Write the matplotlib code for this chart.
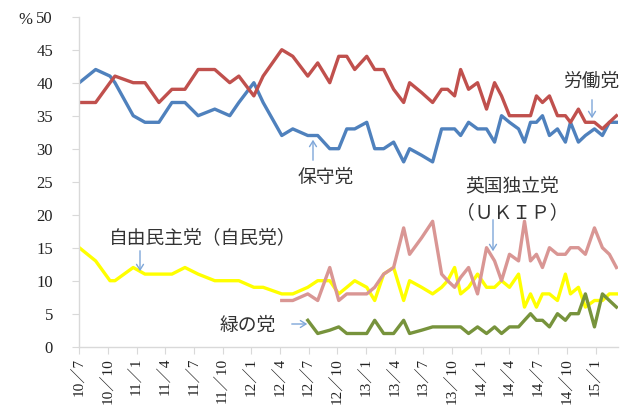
import numpy as np
import matplotlib
matplotlib.use("Agg")
import matplotlib.pyplot as plt

# months since 2010-07 (poll dates)
months = [0.0, 1.71, 3.21, 3.73, 5.64, 6.87, 8.33, 9.69, 11.05, 12.43, 14.17, 15.74,
          16.69, 18.26, 19.23, 21.18, 22.33, 23.90, 24.94, 26.2, 27.14, 27.98, 28.81,
          30.07, 30.9, 31.84, 32.88, 33.93, 34.55, 35.81, 36.96, 37.9, 38.53, 39.26,
          39.89, 40.72, 41.66, 42.6, 43.44, 44.17, 45.0, 45.95, 46.57, 47.2, 47.82,
          48.45, 49.18, 50.02, 50.85, 51.38, 52.21, 52.94, 53.89, 54.72, 55.45, 56.19]

nan = np.nan
conservative = [40, 42, 41, 40, 35, 34, 34, 37, 37, 35, 36, 35,
                37, 40, 37, 32, 33, 32, 32, 30, 30, 33, 33,
                34, 30, 30, 31, 28, 30, 29, 28, 33, 33, 33,
                32, 34, 33, 33, 31, 35, 34, 33, 31, 34, 34,
                35, 32, 33, 31, 34, 31, 32, 33, 32, 34, 34]
labour = [37, 37, 40, 41, 40, 40, 37, 39, 39, 42, 42, 40,
          41, 38, 41, 45, 44, 41, 43, 40, 44, 44, 42,
          44, 42, 42, 39, 37, 40, 38.5, 37, 39, 39, 38,
          42, 39, 40, 36, 40, 38, 35, 35, 35, 35, 38,
          37, 38, 35, 35, 34, 36, 34, 34, 33, 34, 35]
libdem = [15, 13, 10, 10, 12, 11, 11, 11, 12, 11, 10, 10,
          10, 9, 9, 8, 8, 9, 10, 10, 8, 9, 10,
          9, 7, 11, 12, 7, 10, 9, 8, 9, 10, 12,
          8, 9, 11, 9, 9, 10, 9, 11, 6, 8, 6,
          8, 8, 7, 11, 8, 9, 6, 7, 7, 8, 8]
ukip = [nan, nan, nan, nan, nan, nan, nan, nan, nan, nan, nan, nan,
        nan, nan, nan, 7, 7, 8, 7, 12, 7, 8, 8,
        8, 9, 11, 12, 18, 14, 16.5, 19, 11, 10, 9,
        10.5, 12, 8, 15, 13, 10, 14, 13, 19, 13, 14,
        12, 15, 14, 14, 15, 15, 14, 18, 15, 14, 12]
green = [nan, nan, nan, nan, nan, nan, nan, nan, nan, nan, nan, nan,
         nan, nan, nan, nan, nan, 4, 2, 2.5, 3, 2, 2,
         2, 4, 2, 2, 4, 2, 2.5, 3, 3, 3, 3,
         3, 2, 3, 2, 3, 2, 3, 3, 4, 5, 4,
         4, 3, 5, 4, 5, 5, 8, 3, 8, 7, 6]

tick_labels = ["10／7", "10／10", "11／1", "11／4", "11／7", "11／10", "12／1", "12／4",
               "12／7", "12／10", "13／1", "13／4", "13／7", "13／10", "14／1", "14／4",
               "14／7", "14／10", "15／1"]

W, H = 622, 407
fig = plt.figure(figsize=(W / 100, H / 100), dpi=100)
ax = fig.add_axes([79.3 / W, 1 - 346.7 / H, (617.5 - 79.3) / W, (346.7 - 16.7) / H])

jp = ["Liberation Serif", "Noto Sans CJK JP"]

lw = 2.4
ax.plot(months, conservative, color="#4F81BD", lw=lw, solid_joinstyle="round")
ax.plot(months, labour, color="#C0504D", lw=lw, solid_joinstyle="round")
ax.plot(months, libdem, color="#FFFF00", lw=lw, solid_joinstyle="round")
ax.plot(months, ukip, color="#D99694", lw=lw, solid_joinstyle="round")
ax.plot(months, green, color="#77933C", lw=lw, solid_joinstyle="round")

ax.set_ylim(0, 50)
ax.set_xlim(0, 56.3)
ax.set_yticks(range(0, 51, 5))
ax.set_xticks(range(0, 3 * len(tick_labels), 3))
ax.set_xticklabels(tick_labels, rotation=90, family=jp, fontsize=11)
for lab in ax.get_yticklabels():
    lab.set_family("Liberation Serif")
    lab.set_fontsize(12)

for s in ["top", "right"]:
    ax.spines[s].set_visible(False)
for s in ["left", "bottom"]:
    ax.spines[s].set_color("#D9D9D9")
    ax.spines[s].set_linewidth(1.0)
ax.tick_params(axis="both", direction="out", length=5, color="#D9D9D9", labelcolor="#222222")
ax.tick_params(axis="y", pad=14)
ax.tick_params(axis="x", pad=3)

fig.text(18 / W, 1 - 20 / H, "%", family="Liberation Serif", fontsize=12,
         ha="left", va="center", color="#222222")

tc = "#333333"
arrow_c = "#7FA7D9"


def px(x, y):
    # pixel -> figure fraction
    return (x / W, 1 - y / H)


def note(text, x, y, **kw):
    fig.text(*px(x, y), text, family=jp, fontsize=13.5, ha="center", va="center", color=tc, **kw)


def arrow(x0, y0, x1, y1):
    fig.add_artist(matplotlib.patches.FancyArrowPatch(
        px(x0, y0), px(x1, y1), transform=fig.transFigure,
        arrowstyle="->,head_length=4,head_width=2.5", color=arrow_c, lw=1.0))


note("保守党", 326, 178)
arrow(313, 163, 313, 137)
note("労働党", 591, 82)
arrow(592, 97, 592, 121)
note("英国独立党", 512, 187)
note("（ＵＫＩＰ）", 512, 213)
arrow(493, 217, 493, 254)
note("自由民主党（自民党）", 203, 238)
arrow(140, 248, 140, 274)
note("緑の党", 248, 326)
arrow(289, 324, 310, 324)

fig.savefig("out.png", dpi=100)
